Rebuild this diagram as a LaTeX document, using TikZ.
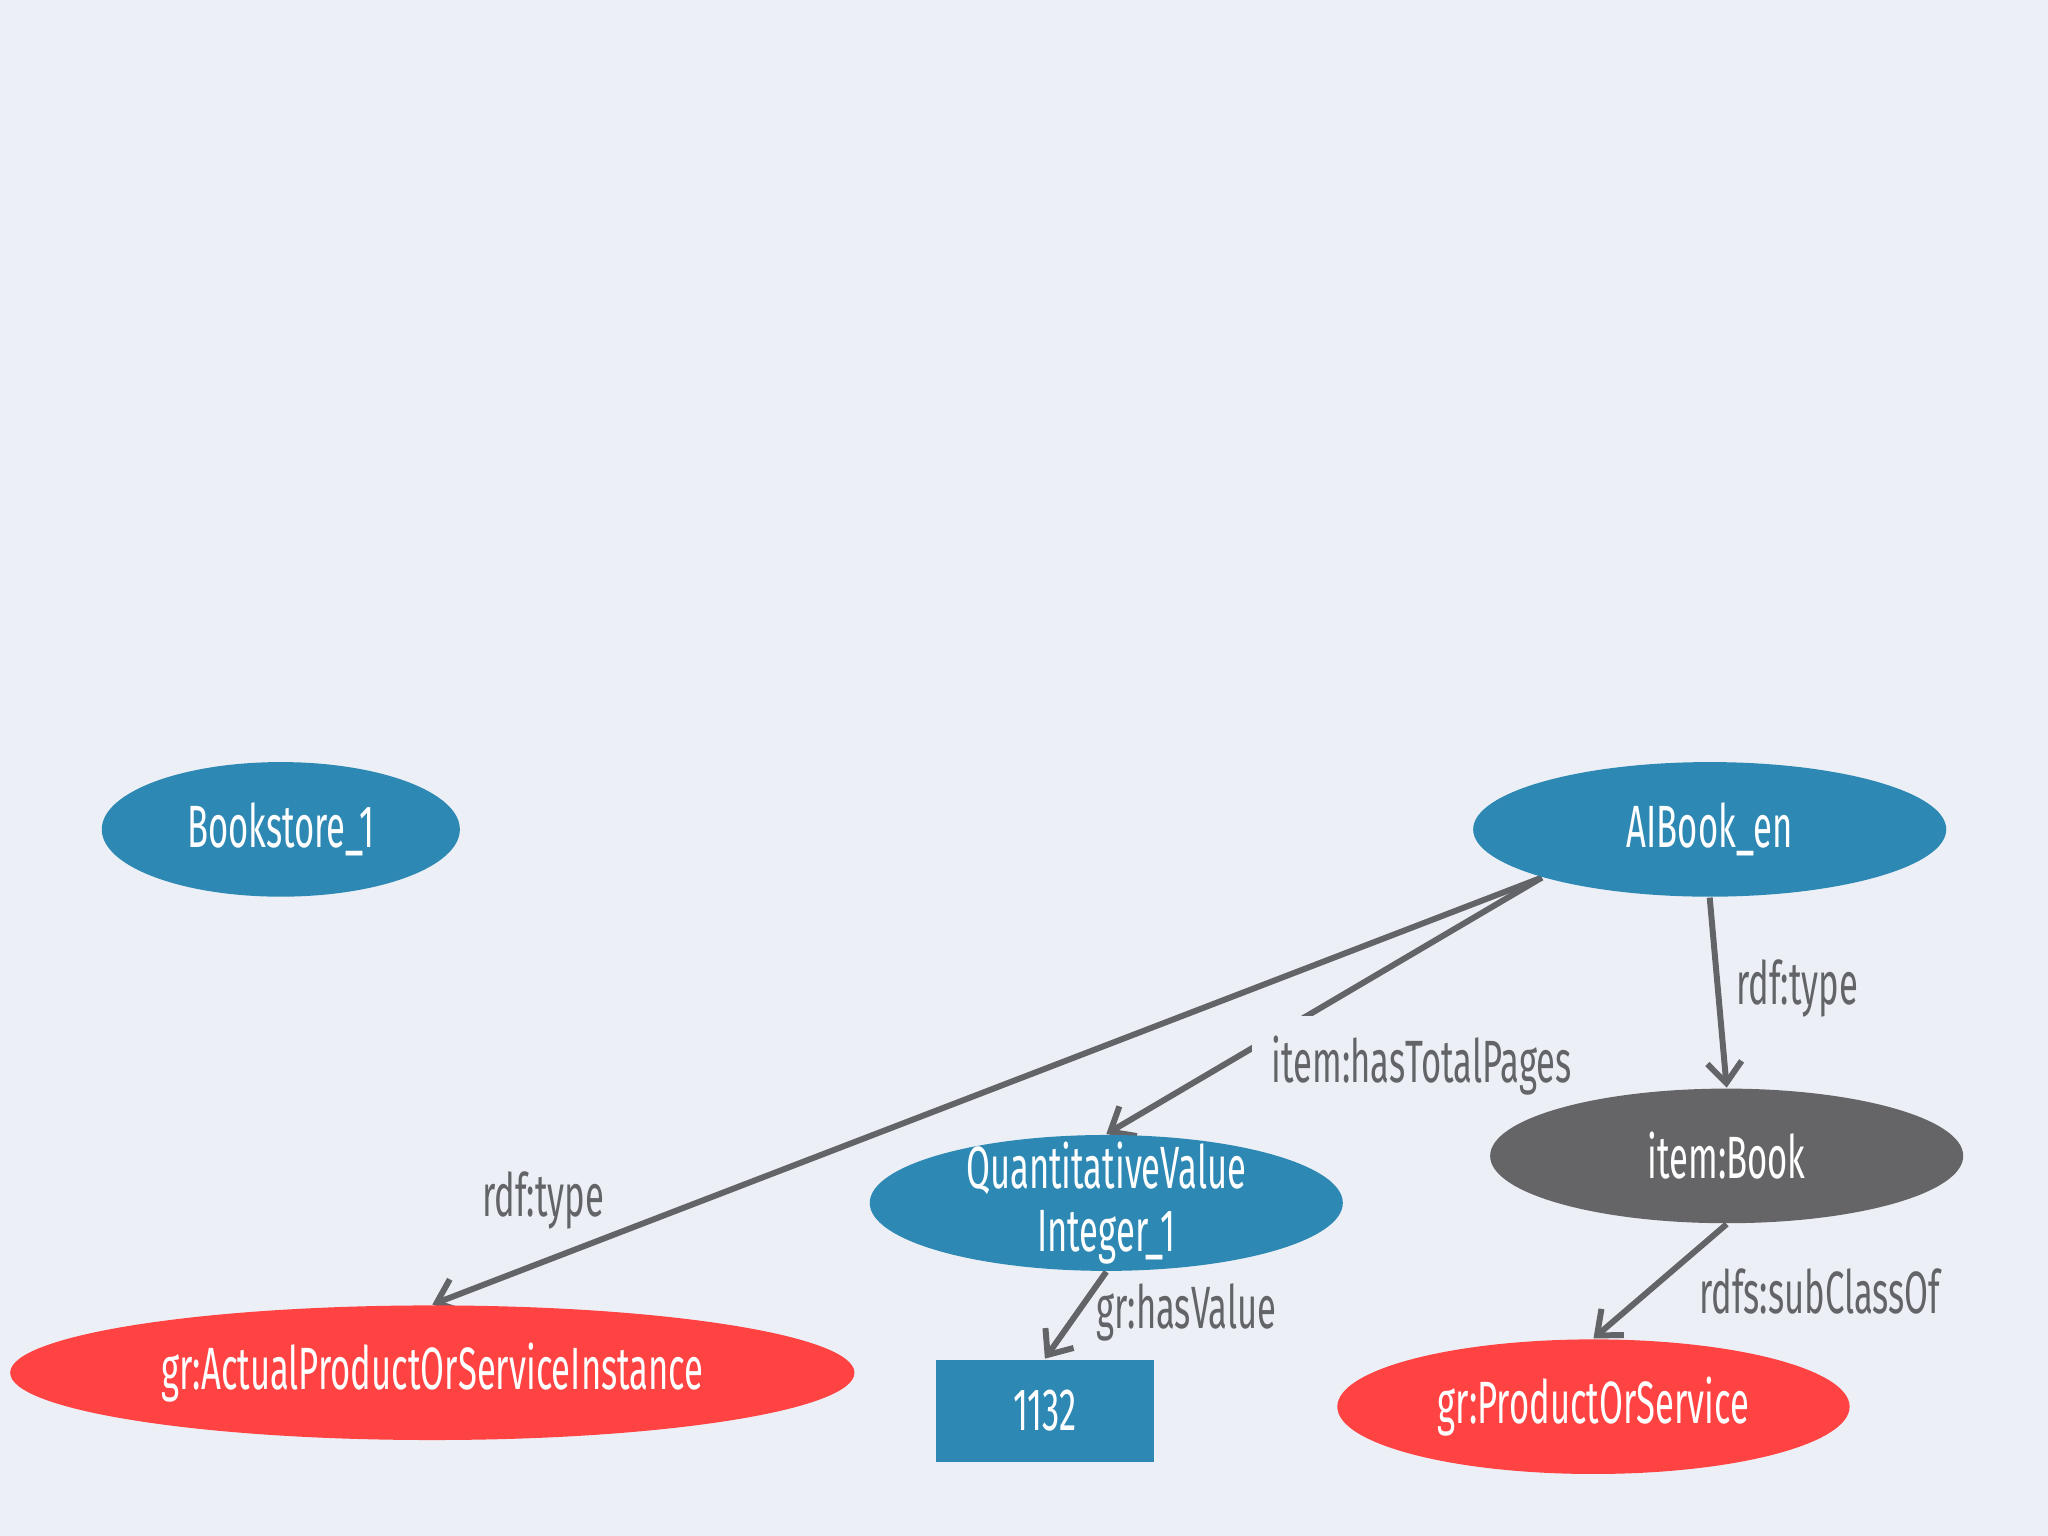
\documentclass[tikz,border=0pt]{standalone}
\usepackage{fontspec}
\setmainfont{Fira Sans}[FakeStretch=0.58]
\usepackage{tikz}
\usetikzlibrary{arrows.meta,shapes.geometric}
\definecolor{canvas}{HTML}{ECF0F6}
\definecolor{nodeblue}{HTML}{2E88B4}
\definecolor{nodered}{HTML}{FF4242}
\definecolor{nodegray}{HTML}{656567}
\definecolor{linkgray}{HTML}{626467}
\pgfdeclarelayer{back}
\pgfsetlayers{back,main}

\begin{document}
\begin{tikzpicture}[x=0.01cm, y=-0.01cm,
    every node/.style={font=\fontsize{13}{13.3}\selectfont},
    res/.style={ellipse, inner sep=0pt, text=white, minimum height=1.03cm},
    lit/.style={rectangle, inner sep=0pt, fill=nodeblue, text=white,
      minimum width=1.67cm, minimum height=0.78cm},
    link/.style={draw=linkgray, line width=1.3pt,
      -{Straight Barb[length=4.5pt, width=7.5pt, line width=1.3pt]}},
    lbl/.style={text=linkgray}]
    % resources
    \node[res, fill=nodeblue, minimum width=2.74cm] (store) at (215,635) {Bookstore\_1};
    \node[res, fill=nodeblue, minimum width=3.62cm] (aibook) at (1309,635) {AIBook\_en};
    \node[res, fill=nodegray, minimum width=3.62cm] (book) at (1322,885) {item:Book};
    \node[res, fill=nodeblue, minimum width=3.62cm, minimum height=1.04cm,
      inner ysep=-0.12cm, align=center] (qv) at (847,921) {QuantitativeValue\\[0.4pt]Integer\_1};
    \node[res, fill=nodered, minimum width=6.46cm] (instance) at (331,1051)
      {gr:ActualProductOrServiceInstance};
    \node[res, fill=nodered, minimum width=3.92cm] (prodserv) at (1220,1077) {gr:ProductOrService};
    \node[lit] (pages) at (800,1080) {1132};
    % properties, kept under the resources
    \begin{pgfonlayer}{back}
    \fill[canvas] (0,0) rectangle (1568,1176);
    \draw[link] (aibook.south west) -- (instance.north)
      node[lbl, pos=0.84, xshift=-0.51cm, yshift=0.27cm] {rdf:type};
    \draw[link] (aibook.south west) -- (qv.north)
      node[lbl, pos=0.672, anchor=west, yshift=-0.12cm, fill=canvas, inner sep=0.15cm] {item:hasTotalPages};
    \draw[link] (aibook.south) -- (book.north)
      node[lbl, pos=0.476, anchor=west] {rdf:type};
    \draw[link] (qv.south) -- (pages.north)
      node[lbl, pos=0.464, anchor=west] {gr:hasValue};
    \draw[link] (book.south) -- (prodserv.north)
      node[lbl, pos=0.59, anchor=west, xshift=0.25cm] {rdfs:subClassOf};
    \end{pgfonlayer}
\end{tikzpicture}
\end{document}
